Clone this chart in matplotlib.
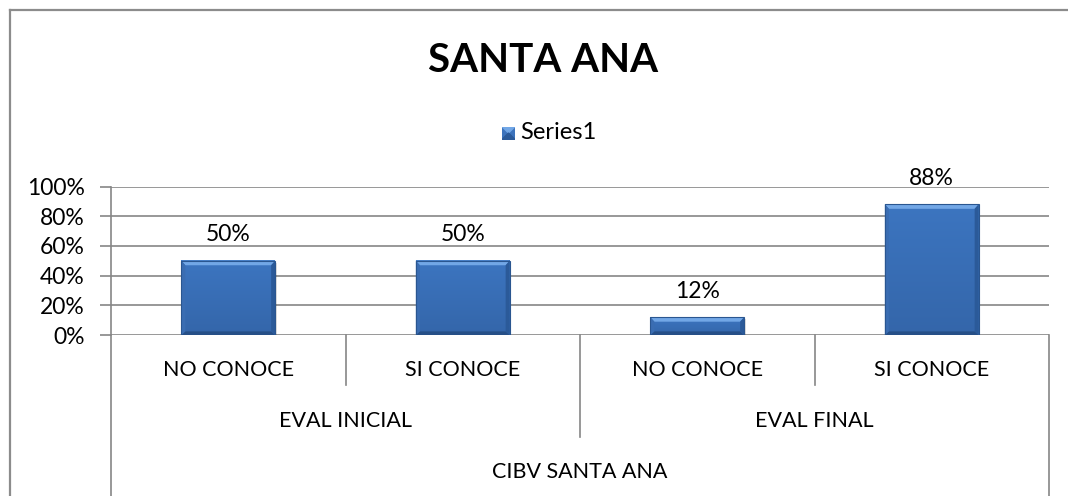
import numpy as np
import matplotlib.pyplot as plt
from matplotlib.patches import Polygon, Rectangle
from matplotlib.transforms import blended_transform_factory

plt.rcParams['font.family'] = ['Lato', 'DejaVu Sans']

# data
title = 'SANTA ANA'
series_name = 'Series1'
categories = ['NO CONOCE', 'SI CONOCE', 'NO CONOCE', 'SI CONOCE']
groups = ['EVAL INICIAL', 'EVAL FINAL']
top_group = 'CIBV SANTA ANA'
values = [0.50, 0.50, 0.12, 0.88]
y_ticks = [0, 0.2, 0.4, 0.6, 0.8, 1.0]

W, H = 1068, 496
fig = plt.figure(figsize=(W / 100, H / 100), dpi=100)

# plot area in pixels
px_left, px_right, px_top, px_bottom = 111, 1049, 186.5, 335
ax = fig.add_axes([px_left / W, (H - px_bottom) / H,
                   (px_right - px_left) / W, (px_bottom - px_top) / H])

grid_col = '#868686'
num_fs = 16.5
cat_fs = 15.5
ax.set_xlim(-0.5, len(categories) - 0.5)
ax.set_ylim(0, 1)
ax.set_yticks(y_ticks)
ax.set_yticklabels([f'{int(round(t * 100))}%' for t in y_ticks], fontsize=num_fs)
ax.tick_params(axis='y', length=8, color=grid_col, width=1.2, pad=11)
ax.set_xticks([])
for t in y_ticks:
    ax.axhline(t, color=grid_col, lw=1.2, zorder=0)
for s in ['top', 'right', 'bottom']:
    ax.spines[s].set_visible(False)
ax.spines['left'].set_color(grid_col)
ax.spines['left'].set_linewidth(1.2)

# pixel -> data scale helpers
ux = (len(categories)) / (px_right - px_left)   # data units per px, x
uy = 1.0 / (px_bottom - px_top)                  # data units per px, y


def bevel_bar(ax, xc, h, w, zorder=3):
    x0, x1 = xc - w / 2, xc + w / 2
    bx, by = 4 * ux, 4.5 * uy
    # shadow
    ax.add_patch(Rectangle((x0 + 1.5 * ux, -2 * uy), w, h, color='#000000',
                           alpha=0.12, lw=0, zorder=zorder - 1))
    # body gradient
    grad = np.linspace(0, 1, 64).reshape(-1, 1)
    cmap = plt.matplotlib.colors.LinearSegmentedColormap.from_list(
        'b', ['#3466AA', '#3C75C0'])
    ax.imshow(grad, extent=(x0, x1, 0, h), origin='lower', cmap=cmap,
              aspect='auto', zorder=zorder, interpolation='bilinear')
    # bevel edges
    ax.add_patch(Polygon([(x0, h), (x1, h), (x1 - bx, h - by), (x0 + bx, h - by)],
                         closed=True, color='#72A7E6', lw=0, zorder=zorder + 1))
    ax.add_patch(Polygon([(x0, 0), (x1, 0), (x1 - bx, by * 0.8), (x0 + bx, by * 0.8)],
                         closed=True, color='#264F87', lw=0, zorder=zorder + 1))
    ax.add_patch(Polygon([(x0, 0), (x0, h), (x0 + bx, h - by), (x0 + bx, by * 0.8)],
                         closed=True, color='#3A6DB2', lw=0, zorder=zorder + 1))
    ax.add_patch(Polygon([(x1, 0), (x1, h), (x1 - bx, h - by), (x1 - bx, by * 0.8)],
                         closed=True, color='#2B5A99', lw=0, zorder=zorder + 1))
    ax.add_patch(Rectangle((x0, 0), w, h, fill=False, ec='#2A5690', lw=0.8,
                           zorder=zorder + 2))


bar_w = 0.40
for i, v in enumerate(values):
    bevel_bar(ax, i, v, bar_w)
    ax.annotate(f'{int(round(v * 100))}%', (i, v), xytext=(0, 14),
                textcoords='offset points', ha='center', va='baseline',
                fontsize=num_fs)

# multi-level category axis
tr = blended_transform_factory(ax.transData, ax.transAxes)
ph = px_bottom - px_top


def ya(py):
    return (px_bottom - py) / ph


sep_levels = {0: 496 + 5, 1: 385, 2: 437, 3: 385, 4: 496 + 5}
for k, py in sep_levels.items():
    ax.plot([k - 0.5, k - 0.5], [0, ya(py)], color=grid_col, lw=1.2,
            transform=tr, clip_on=False)

for i, c in enumerate(categories):
    ax.text(i, ya(370), c, ha='center', va='center', fontsize=cat_fs,
            transform=tr)
for j, g in enumerate(groups):
    ax.text(2 * j + 0.5, ya(421), g, ha='center', va='center', fontsize=cat_fs,
            transform=tr)
ax.text(1.5, ya(472.5), top_group, ha='center', va='center', fontsize=cat_fs,
        transform=tr)

# title and legend
fig.text(543 / W, 1 - 61 / H, title, ha='center', va='center',
         fontsize=29, fontweight='bold')
lx, ly, ls = 502, 133, 13
leg = fig.add_axes([lx / W, 1 - (ly + ls / 2) / H, ls / W, ls / H])
leg.set_axis_off()
leg.set_xlim(0, 1)
leg.set_ylim(0, 1)
leg.add_patch(Rectangle((0, 0), 1, 1, color='#3C73BC'))
leg.add_patch(Polygon([(0, 1), (1, 1), (0.5, 0.5)], color='#72A7E6'))
leg.add_patch(Polygon([(0, 0), (1, 0), (0.5, 0.5)], color='#2B5A99'))
fig.text((lx + ls + 5) / W, 1 - ly / H, series_name, ha='left', va='center',
         fontsize=17)

# chart border (cropped at right and bottom)
fig.add_artist(plt.Line2D([9.5 / W, 9.5 / W], [0, 1 - 10 / H], color='#8c8c8c',
                          lw=1.6))
fig.add_artist(plt.Line2D([9.5 / W, 1], [1 - 10 / H, 1 - 10 / H], color='#8c8c8c',
                          lw=1.6))

fig.savefig('out.png', dpi=100)
